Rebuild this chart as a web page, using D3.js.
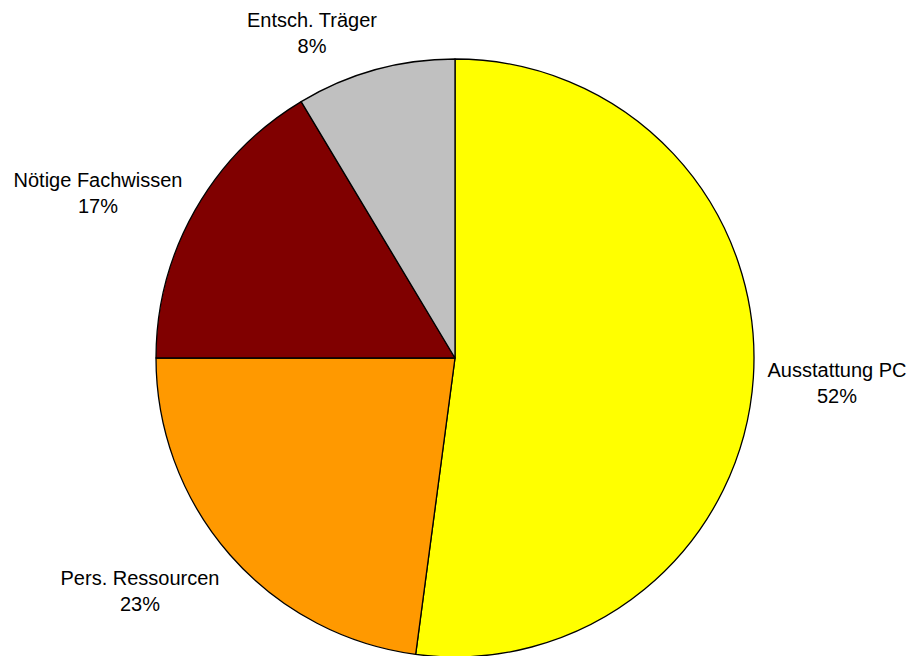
<!DOCTYPE html>
<html>
<head>
<meta charset="utf-8">
<script src="https://cdn.jsdelivr.net/npm/d3@7"></script>
<style>
    body { margin: 0; background: #fff; }
    text { font-family: "Liberation Sans", Arial, sans-serif; }
</style>
</head>
<body>
<div id="canvas"></div>
<script>
"use strict"

let categories = ["Ausstattung PC", "Pers. Ressourcen", "Nötige Fachwissen", "Entsch. Träger"]
let values = [52.1, 22.9, 16.4, 8.6]
let percentLabels = ["52%", "23%", "17%", "8%"]
let colors = ["#ffff00", "#ff9900", "#800000", "#c0c0c0"]

let svgWidth = 910
let svgHeight = 656

let center = { x: 455, y: 358 }
let radius = 299

// label centres (x) and first baseline (y), read from the layout
let labelSpots = [
    { x: 837, y: 377 },
    { x: 140, y: 585 },
    { x: 98, y: 187 },
    { x: 312, y: 27 }
]

let svg = d3.select("#canvas")
    .append("svg")
    .attr("width", svgWidth)
    .attr("height", svgHeight)

let data = categories.map(function (name, i) {
    return { name: name, value: values[i], pct: percentLabels[i], color: colors[i], spot: labelSpots[i] }
})

let pie = d3.pie()
    .sort(null)
    .value(function (d) { return d.value })

let arc = d3.arc()
    .innerRadius(0)
    .outerRadius(radius)

let viz = svg.append("g")
    .attr("transform", `translate(${center.x},${center.y})`)

viz.selectAll("path.slice")
    .data(pie(data))
    .join("path")
    .classed("slice", true)
    .attr("d", arc)
    .attr("fill", function (d) { return d.data.color })
    .attr("stroke", "#000")
    .attr("stroke-width", 1.3)
    .attr("stroke-linejoin", "round")

let labels = svg.selectAll("text.label")
    .data(data)
    .join("text")
    .classed("label", true)
    .attr("text-anchor", "middle")
    .attr("font-size", 20)
    .attr("fill", "#000")

labels.append("tspan")
    .attr("x", function (d) { return d.spot.x })
    .attr("y", function (d) { return d.spot.y })
    .text(function (d) { return d.name })

labels.append("tspan")
    .attr("x", function (d) { return d.spot.x })
    .attr("y", function (d) { return d.spot.y + 25.5 })
    .text(function (d) { return d.pct })
</script>
</body>
</html>
